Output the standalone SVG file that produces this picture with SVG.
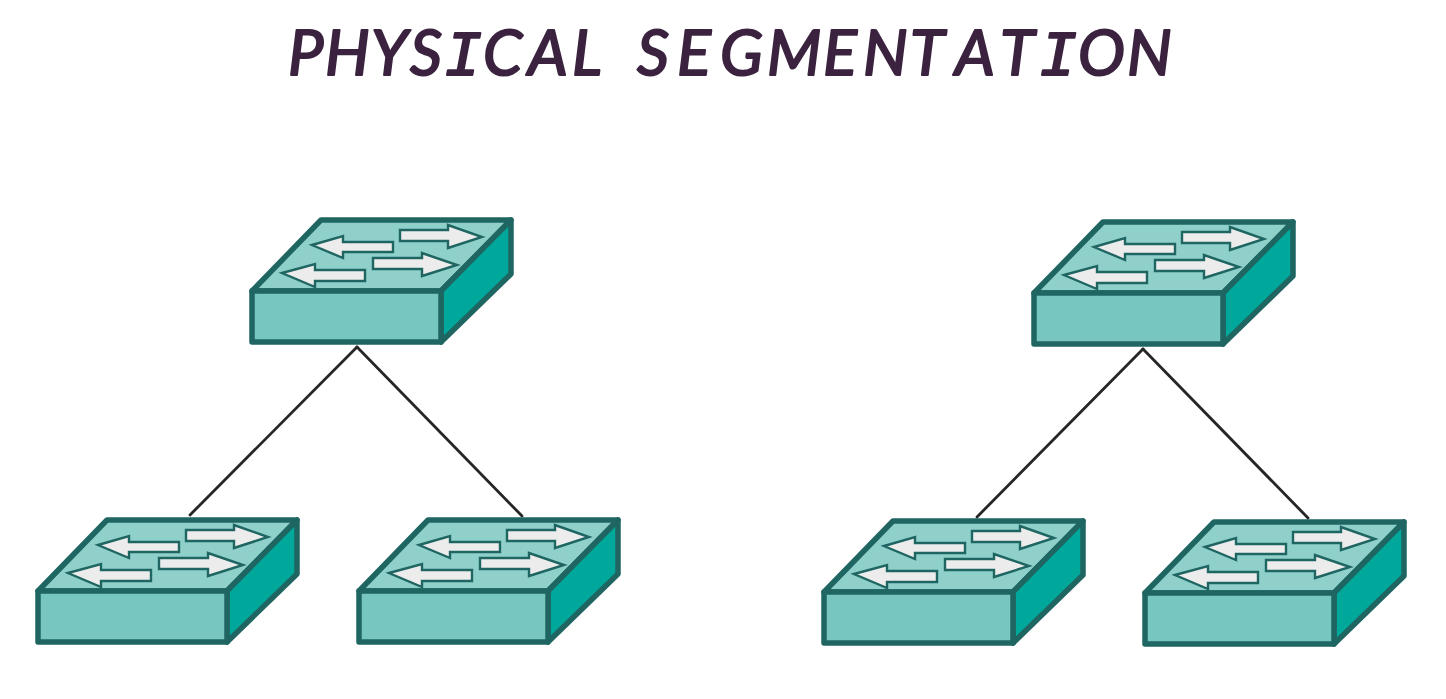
<svg xmlns="http://www.w3.org/2000/svg" width="1446" height="699" viewBox="0 0 1446 699">
  <style>
    .title { font-family: "Lato", "Liberation Sans", sans-serif; font-style: italic; font-size: 63px; fill: #3b2340; stroke: #3b2340; stroke-width: 2px; stroke-linejoin: round; }
    .serif-i { font-family: "Liberation Mono", monospace; }
    .link { stroke: #262626; stroke-width: 2.8; fill: none; stroke-linecap: round; }
    .edge { stroke: #1f6663; stroke-width: 5.5; stroke-linejoin: round; }
    .top { fill: #90d0cb; }
    .front { fill: #78c6c0; }
    .side { fill: #00a89b; }
    .arrow { fill: #ececec; stroke: #1f6663; stroke-width: 2.4; stroke-linejoin: miter; }
  </style>
  <defs>
    <!-- Network switch: top face, side face, front face and four traffic arrows -->
    <g id="switch">
      <polygon class="top edge" points="252,291 321,220 511,220 441,291"/>
      <polygon class="side edge" points="441,291 511,220 511,274 441,342"/>
      <rect class="front edge" x="252" y="291" width="189" height="51"/>
      <polygon class="arrow" points="312,245 343,236 343,242 393,242 393,252 343,252 343,258"/>
      <polygon class="arrow" points="400,230 448,230 448,225 482,237 448,248 448,241 400,241"/>
      <polygon class="arrow" points="373,258 422,258 422,253 457,265 422,276 422,269 373,269"/>
      <polygon class="arrow" points="282,273 315,264 315,270 365,270 365,281 315,281 315,287"/>
    </g>
  </defs>
  <rect width="1446" height="699" fill="#ffffff"/>
  <text class="title" y="75"><tspan x="288 325 371 410">PHYS</tspan><tspan class="serif-i" x="444">I</tspan><tspan x="483 528 572">CAL</tspan> <tspan x="637 677 720 767 823 863 910 955 1000">SEGMENTAT</tspan><tspan class="serif-i" x="1039">I</tspan><tspan x="1078 1127">ON</tspan></text>
  <g id="connectors">
    <line class="link" x1="357" y1="347" x2="190" y2="515"/>
    <line class="link" x1="357" y1="347" x2="522" y2="516"/>
    <line class="link" x1="1143" y1="349" x2="977" y2="517"/>
    <line class="link" x1="1143" y1="349" x2="1308" y2="518"/>
  </g>
  <g id="switch-left-root"><use href="#switch"/></g>
  <g id="switch-left-a"><use href="#switch" x="-214" y="300"/></g>
  <g id="switch-left-b"><use href="#switch" x="107" y="300"/></g>
  <g id="switch-right-root"><use href="#switch" x="782" y="2"/></g>
  <g id="switch-right-a"><use href="#switch" x="572" y="301"/></g>
  <g id="switch-right-b"><use href="#switch" x="893" y="302"/></g>
</svg>
